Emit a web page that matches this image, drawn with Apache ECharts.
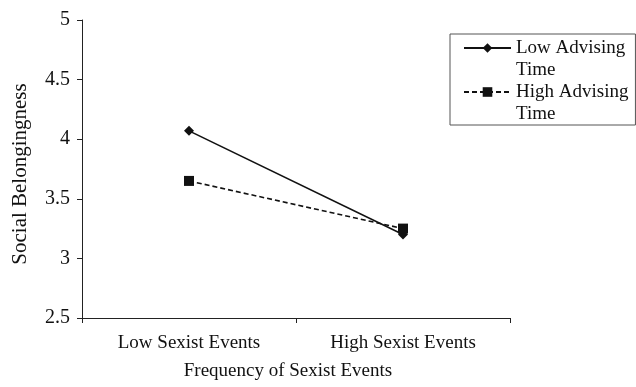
<!DOCTYPE html>
<html>
<head>
<meta charset="utf-8">
<script src="https://cdn.jsdelivr.net/npm/echarts@6/dist/echarts.min.js"></script>
<style>html,body{margin:0;padding:0;background:#fff;}#c{width:636px;height:387px;}</style>
</head>
<body>
<div id="c"></div>
<script>
const categories = ['Low Sexist Events', 'High Sexist Events'];
const lowAdvising = [4.07, 3.2];
const highAdvising = [3.65, 3.25];
const seriesNames = ['Low Advising\nTime', 'High Advising\nTime'];
const yTicks = { min: 2.5, max: 5, interval: 0.5 };

const font = 'Liberation Serif';
const chart = echarts.init(document.getElementById('c'));
chart.setOption({
  animation: false,
  backgroundColor: '#fff',
  textStyle: { fontFamily: font },
  grid: { left: 82, right: 126, top: 20, bottom: 69 },
  legend: {
    orient: 'vertical',
    left: 450,
    top: 34,
    padding: [-19, 7, 0, 13],
    itemGap: -22,
    itemWidth: 47,
    itemHeight: 12,
    borderColor: '#555',
    borderWidth: 1,
    formatter: function (name) { return '\n' + name; },
    textStyle: { fontFamily: font, fontSize: 19, color: '#111', lineHeight: 22 },
    data: seriesNames
  },
  xAxis: {
    type: 'category',
    data: categories,
    boundaryGap: true,
    axisLine: { lineStyle: { color: '#222', width: 1 } },
    axisTick: { show: true, length: 5, lineStyle: { color: '#222' } },
    axisLabel: { fontFamily: font, fontSize: 19, color: '#111', margin: 16 },
    name: 'Frequency of Sexist Events',
    nameLocation: 'middle',
    nameGap: 44,
    nameTextStyle: { fontFamily: font, fontSize: 19, color: '#111', padding: [0, 16, 0, 0] }
  },
  yAxis: {
    type: 'value',
    min: yTicks.min,
    max: yTicks.max,
    interval: yTicks.interval,
    splitLine: { show: false },
    axisLine: { show: true, lineStyle: { color: '#222', width: 1 } },
    axisTick: { show: true, length: 5, lineStyle: { color: '#222' } },
    axisLabel: { fontFamily: font, fontSize: 20, color: '#111', margin: 12 },
    name: 'Social Belongingness',
    nameLocation: 'middle',
    nameGap: 51,
    nameTextStyle: { fontFamily: font, fontSize: 21, color: '#111', padding: [0, 10, 0, 0] }
  },
  series: [
    {
      name: seriesNames[0],
      type: 'line',
      data: lowAdvising,
      symbol: 'diamond',
      symbolSize: 10,
      itemStyle: { color: '#111' },
      lineStyle: { color: '#111', width: 1.6, type: 'solid' }
    },
    {
      name: seriesNames[1],
      type: 'line',
      data: highAdvising,
      symbol: 'rect',
      symbolSize: 10,
      itemStyle: { color: '#111' },
      lineStyle: { color: '#111', width: 1.6, type: [5, 3] }
    }
  ]
});
</script>
</body>
</html>
